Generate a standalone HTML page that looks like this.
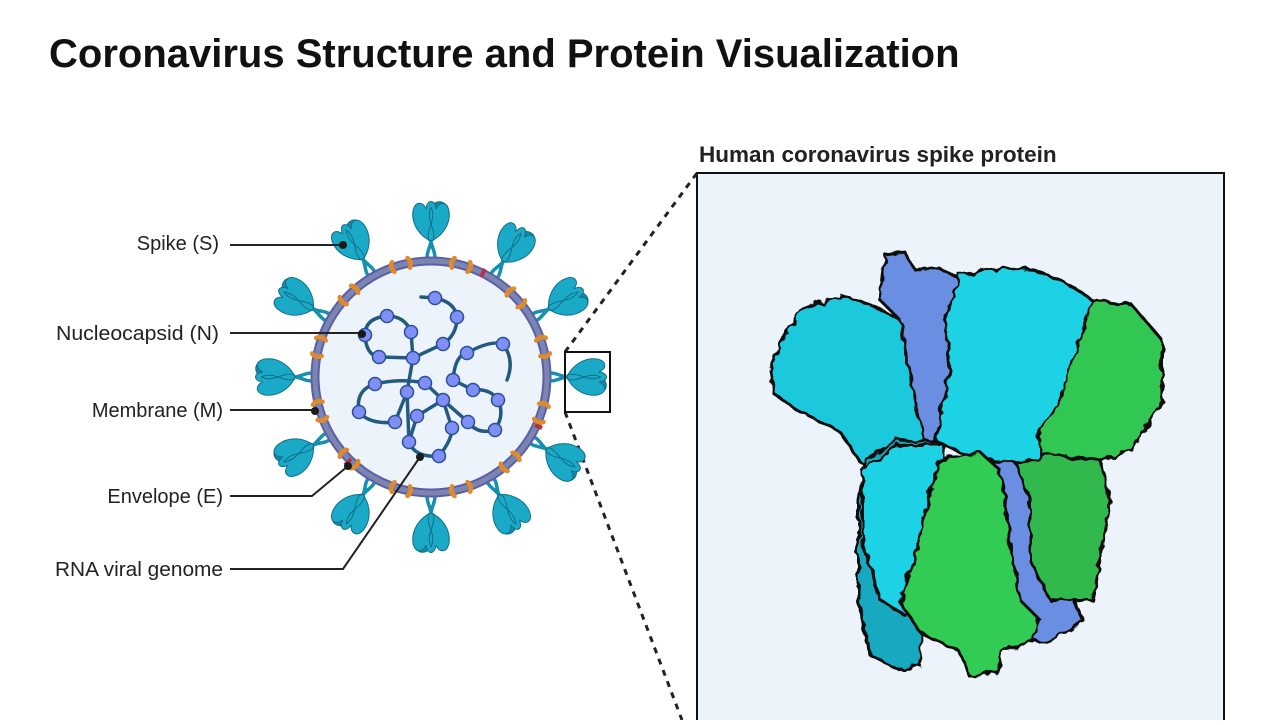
<!DOCTYPE html>
<html><head><meta charset="utf-8"><style>
body{margin:0;width:1280px;height:720px;overflow:hidden;background:#fff;font-family:"Liberation Sans",sans-serif}
</style></head><body>
<svg width="1280" height="720" viewBox="0 0 1280 720" xmlns="http://www.w3.org/2000/svg">
<defs>
<filter id="bump" x="-5%" y="-5%" width="110%" height="110%">
 <feTurbulence type="fractalNoise" baseFrequency="0.09" numOctaves="2" seed="3"/>
 <feDisplacementMap in="SourceGraphic" scale="9"/>
</filter>
<g id="sp">
 <path d="M-3,0 C-7,-10 5,-18 -2,-30 M3,0 C7,-10 -5,-18 2,-30" stroke="#1590b0" stroke-width="3.5" fill="none"/>
 <path d="M-2,-50 C2,-62 14,-62 17,-52 C18,-44 10,-42 6,-44Z" fill="#1888a8" stroke="#0f6f88" stroke-width="1"/>
 <path d="M0,-20 C-10,-24 -20,-36 -18,-50 C-16,-60 -8,-60 -5,-52 C-4,-62 4,-62 5,-52 C8,-60 16,-60 18,-50 C20,-36 10,-24 0,-20Z" fill="#1aa9c6" stroke="#0f6f88" stroke-width="1"/>
 <path d="M-2,-20 C-6,-32 6,-40 0,-54 M2,-20 C6,-32 -6,-40 0,-54" stroke="#0f6f88" stroke-width="1" fill="none"/>
</g>
<g id="mp"><path d="M-8,-5 q-4,5 0,10 M8,-5 q4,5 0,10" stroke="#e08a2a" stroke-width="4.5" fill="none" stroke-linecap="round"/></g>
</defs>
<text x="49" y="67" font-size="40" font-weight="bold" fill="#111">Coronavirus Structure and Protein Visualization</text>
<text x="699" y="162" font-size="22.5" font-weight="bold" fill="#222">Human coronavirus spike protein</text>
<rect x="697" y="173" width="527" height="560" fill="#edf3fb" stroke="#111" stroke-width="2"/>
<line x1="565" y1="352" x2="697" y2="173" stroke="#222" stroke-width="3" stroke-dasharray="6,6"/>
<line x1="565" y1="412" x2="682" y2="720" stroke="#222" stroke-width="3" stroke-dasharray="6,6"/>
<!-- protein -->
<g stroke="#111" stroke-width="3" stroke-linejoin="round" filter="url(#bump)">
<polygon fill="#6b8ee2" points="885,255 905,252 915,270 940,268 962,280 962,440 920,452 900,320 880,300"/>
<polygon fill="#6b8ee2" points="990,450 1030,470 1050,595 1070,588 1082,620 1052,642 1020,640 1000,560 985,500"/>
<polygon fill="#1fc8dc" points="770,370 780,345 800,310 840,295 870,305 900,320 915,400 930,462 890,472 860,462 840,432 800,412 775,395"/>
<polygon fill="#14a9c0" points="865,460 900,440 940,442 940,560 922,600 920,665 900,670 870,655 858,600 858,500"/>
<polygon fill="#33c653" points="1040,305 1090,300 1132,305 1162,340 1162,400 1132,450 1100,460 1090,472 1040,472 1010,452 1025,380 1030,330"/>
<polygon fill="#30b94e" points="1010,450 1100,460 1110,500 1100,560 1092,600 1050,600 1030,560 1030,500"/>
<polygon fill="#1ad2e4" points="960,275 990,270 1030,268 1070,285 1092,300 1060,400 1040,430 1040,460 1000,462 960,452 935,440 950,370 945,320"/>
<polygon fill="#1ad2e4" points="862,470 900,445 945,445 935,520 920,600 905,615 880,600 862,540"/>
<polygon fill="#33cc55" points="940,460 980,452 1000,470 1010,540 1020,600 1040,620 1032,642 1000,650 1000,672 970,677 960,652 920,632 900,602 915,560 925,510"/>
</g>
<!-- virus -->
<g transform="translate(431,377)">
 <g transform="rotate(0) translate(0,-116)"><use href="#sp"/></g>
 <g transform="rotate(32) translate(0,-116)"><use href="#sp"/></g>
 <g transform="rotate(60) translate(0,-116)"><use href="#sp"/></g>
 <g transform="rotate(90) translate(0,-116)"><use href="#sp"/></g>
 <g transform="rotate(122) translate(0,-116)"><use href="#sp"/></g>
 <g transform="rotate(150) translate(0,-116)"><use href="#sp"/></g>
 <g transform="rotate(180) translate(0,-116)"><use href="#sp"/></g>
 <g transform="rotate(210) translate(0,-116)"><use href="#sp"/></g>
 <g transform="rotate(240) translate(0,-116)"><use href="#sp"/></g>
 <g transform="rotate(270) translate(0,-116)"><use href="#sp"/></g>
 <g transform="rotate(300) translate(0,-116)"><use href="#sp"/></g>
 <g transform="rotate(330) translate(0,-116)"><use href="#sp"/></g>
</g>
<circle cx="431" cy="377" r="116" fill="#edf3fb" stroke="#5a5fa8" stroke-width="9"/>
<circle cx="431" cy="377" r="116" fill="none" stroke="#7b85b0" stroke-width="5"/>
<g transform="translate(431,377)">
 <g transform="rotate(-15) translate(0,-116)"><use href="#mp"/></g>
 <g transform="rotate(15) translate(0,-116)"><use href="#mp"/></g>
 <g transform="rotate(47) translate(0,-116)"><use href="#mp"/></g>
 <g transform="rotate(75) translate(0,-116)"><use href="#mp"/></g>
 <g transform="rotate(108) translate(0,-116)"><use href="#mp"/></g>
 <g transform="rotate(137) translate(0,-116)"><use href="#mp"/></g>
 <g transform="rotate(165) translate(0,-116)"><use href="#mp"/></g>
 <g transform="rotate(195) translate(0,-116)"><use href="#mp"/></g>
 <g transform="rotate(225) translate(0,-116)"><use href="#mp"/></g>
 <g transform="rotate(253) translate(0,-116)"><use href="#mp"/></g>
 <g transform="rotate(285) translate(0,-116)"><use href="#mp"/></g>
 <g transform="rotate(315) translate(0,-116)"><use href="#mp"/></g>
 <g stroke="#b83040" stroke-width="4">
  <line x1="50" y1="-100" x2="54" y2="-108" />
  <line x1="104" y1="48" x2="111" y2="51"/>
  <line x1="-80" y1="82" x2="-86" y2="88"/>
 </g>
</g>
<!-- RNA -->
<g fill="none" stroke="#235a80" stroke-width="3.5" stroke-linecap="round">
<path d="M421,297 L435,298 Q455,302 457,317 Q457,335 443,344 L413,358 L411,332 Q405,316 387,316 Q365,318 365,335 Q366,355 379,357 L413,358"/>
<path d="M413,358 L407,392 L395,422 Q370,425 359,412 Q355,390 375,384 Q400,378 425,383 L443,400 L417,416 L409,442 Q415,458 439,456 Q452,440 452,428 L443,400 L468,422 Q478,435 495,430 Q505,415 498,400 Q490,388 473,390 L453,380 Q455,355 467,353 Q490,340 503,344 Q515,360 507,380"/>
<path d="M407,392 L409,442"/>
</g>
<g fill="#7f8ff5" stroke="#2b4f9a" stroke-width="1.5">
<circle cx="435" cy="298" r="6.5"/><circle cx="457" cy="317" r="6.5"/><circle cx="443" cy="344" r="6.5"/><circle cx="413" cy="358" r="6.5"/><circle cx="411" cy="332" r="6.5"/><circle cx="387" cy="316" r="6.5"/><circle cx="365" cy="335" r="6.5"/><circle cx="379" cy="357" r="6.5"/><circle cx="375" cy="384" r="6.5"/><circle cx="407" cy="392" r="6.5"/><circle cx="425" cy="383" r="6.5"/><circle cx="443" cy="400" r="6.5"/><circle cx="359" cy="412" r="6.5"/><circle cx="395" cy="422" r="6.5"/><circle cx="417" cy="416" r="6.5"/><circle cx="409" cy="442" r="6.5"/><circle cx="439" cy="456" r="6.5"/><circle cx="452" cy="428" r="6.5"/><circle cx="468" cy="422" r="6.5"/><circle cx="495" cy="430" r="6.5"/><circle cx="498" cy="400" r="6.5"/><circle cx="473" cy="390" r="6.5"/><circle cx="453" cy="380" r="6.5"/><circle cx="467" cy="353" r="6.5"/><circle cx="503" cy="344" r="6.5"/>
</g>
<rect x="565" y="352" width="45" height="60" fill="none" stroke="#111" stroke-width="2"/>
<!-- labels -->
<g font-size="20" fill="#222" text-anchor="end">
<text x="219" y="250">Spike (S)</text>
<text x="219" y="340" textLength="163" lengthAdjust="spacingAndGlyphs">Nucleocapsid (N)</text>
<text x="223" y="417">Membrane (M)</text>
<text x="223" y="503">Envelope (E)</text>
<text x="223" y="576" textLength="168" lengthAdjust="spacingAndGlyphs">RNA viral genome</text>
</g>
<g stroke="#222" stroke-width="2" fill="none">
<polyline points="230,245 343,245"/>
<polyline points="230,333 362,333"/>
<polyline points="230,410 315,410"/>
<polyline points="230,496 312,496 348,466"/>
<polyline points="230,569 343,569 420,457"/>
</g>
<g fill="#1a1a1a">
<circle cx="343" cy="245" r="4"/><circle cx="362" cy="334" r="4"/><circle cx="315" cy="411" r="4"/><circle cx="348" cy="466" r="4"/><circle cx="420" cy="457" r="4"/>
</g>
</svg>
</body></html>
